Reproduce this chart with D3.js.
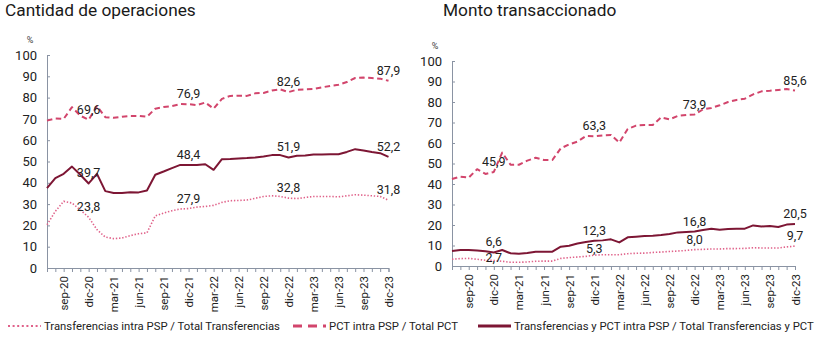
<!DOCTYPE html>
<html>
<head>
<meta charset="utf-8">
<script src="https://cdn.jsdelivr.net/npm/d3@7"></script>
<style>
  body { margin: 0; background: #fff; }
  svg { font-family: Roboto, "Noto Sans", sans-serif; }
</style>
</head>
<body>
<svg id="chart" width="816" height="337"></svg>
<script>
// meses jul-20 .. dic-23
const months = ['ene', 'feb', 'mar', 'abr', 'may', 'jun', 'jul', 'ago', 'sep', 'oct', 'nov', 'dic'];
const categories = [];
for (let y = 20; y <= 23; y++) {
  months.forEach((m, k) => {
    if (y === 20 && k < 6) return;
    categories.push(`${m}-${y}`);
  });
}
const tickLabels = categories.filter(c => /^(sep|dic|mar|jun)/.test(c));
const labelAt = ['dic-20', 'dic-21', 'dic-22', 'dic-23'];
const yTicks = [0, 10, 20, 30, 40, 50, 60, 70, 80, 90, 100];

// Cantidad de operaciones
const cantTransf = [20.3, 26.6, 31.3, 30.5, 27.3, 23.8, 18.0, 14.5, 13.8, 14.1, 15.2, 16.1, 16.5, 24.5,
  25.8, 26.9, 27.7, 27.9, 28.6, 28.9, 29.4, 30.8, 31.6, 31.7, 31.9, 32.7, 33.6, 33.9, 33.6, 32.8,
  32.6, 33.1, 33.6, 33.6, 33.6, 33.4, 33.9, 34.4, 34.2, 33.9, 33.6, 31.8];
const cantPCT = [69.2, 70.2, 70.0, 75.5, 71.5, 69.6, 76.0, 70.8, 70.5, 71.0, 71.4, 71.4, 71.0, 74.8,
  75.6, 76.0, 77.0, 76.9, 76.5, 77.7, 74.8, 79.4, 80.8, 80.9, 80.8, 82.0, 82.2, 83.3, 83.9, 82.6,
  83.7, 83.9, 84.0, 84.8, 85.5, 86.0, 87.3, 89.2, 89.4, 89.2, 88.9, 87.9];
const cantTotal = [37.5, 42.2, 44.2, 47.6, 43.8, 39.7, 44.2, 36.1, 35.2, 35.2, 35.6, 35.5, 36.4, 43.8,
  45.3, 46.9, 48.4, 48.4, 48.4, 48.7, 46.1, 51.1, 51.2, 51.4, 51.6, 51.9, 52.3, 53.0, 53.0, 51.9,
  52.7, 52.8, 53.3, 53.3, 53.4, 53.4, 54.5, 55.8, 55.2, 54.5, 53.9, 52.2];

// Monto transaccionado
const montoTransf = [3.3, 3.6, 3.7, 3.3, 2.8, 2.7, 2.3, 1.8, 1.8, 2.0, 2.3, 2.4, 2.4, 3.7,
  4.1, 4.4, 4.7, 5.3, 5.5, 5.5, 5.5, 6.0, 6.2, 6.3, 6.6, 6.8, 7.1, 7.3, 7.6, 8.0,
  8.1, 8.3, 8.3, 8.5, 8.5, 8.6, 8.9, 8.8, 8.8, 8.8, 9.3, 9.7];
const montoPCT = [42.4, 43.6, 43.1, 47.2, 44.9, 45.9, 55.3, 49.4, 49.4, 51.4, 52.8, 51.7, 51.7, 57.4,
  59.3, 60.7, 63.4, 63.3, 63.7, 63.9, 60.2, 66.8, 68.5, 68.8, 68.8, 72.5, 71.5, 73.2, 73.7, 73.9,
  76.4, 77.1, 78.4, 80.0, 81.0, 81.6, 83.7, 85.2, 85.5, 85.9, 86.3, 85.6];
const montoTotal = [7.3, 7.8, 7.8, 7.6, 7.2, 6.6, 7.8, 6.2, 6.0, 6.3, 7.0, 7.0, 7.0, 9.4,
  9.9, 11.0, 11.7, 12.3, 12.5, 13.0, 11.5, 14.0, 14.3, 14.6, 14.8, 15.1, 15.6, 16.4, 16.6, 16.8,
  17.6, 18.2, 17.7, 18.0, 18.2, 18.2, 19.8, 19.3, 19.5, 19.0, 20.2, 20.5];

const seriesNames = [
  'Transferencias intra PSP / Total Transferencias',
  'PCT intra PSP / Total PCT',
  'Transferencias y PCT intra PSP / Total Transferencias y PCT'
];

const styles = [
  { color: '#e0628a', width: 1.6, dash: '1.4,1.8' },
  { color: '#d2456c', width: 2, dash: '5.5,3.5' },
  { color: '#7d1634', width: 2, dash: null }
];

const svg = d3.select('#chart');
const axisColor = '#8a93a3';

// labels that sit lower than the rest (panel-serie-mes -> px)
const labelNudge = { '1-0-dic-20': 8, '1-0-dic-21': 4 };

const panels = [
  { title: 'Cantidad de operaciones', tx: 5, x0: 47, x1: 388.5, yTop: 55, yBot: 268,
    series: [cantTransf, cantPCT, cantTotal] },
  { title: 'Monto transaccionado', tx: 443, x0: 452, x1: 795, yTop: 61, yBot: 266,
    series: [montoTransf, montoPCT, montoTotal] }
];

panels.forEach((p, pi) => {
  const g = svg.append('g');

  g.append('text')
    .attr('x', p.tx).attr('y', 16)
    .attr('font-size', 17.3).attr('fill', '#1a1a1a')
    .text(p.title);

  const x = d3.scalePoint().domain(categories).range([p.x0, p.x1]);
  const y = d3.scaleLinear().domain([0, 100]).range([p.yBot, p.yTop]);

  g.append('text')
    .attr('x', p.x0 - 17).attr('y', p.yTop - 12)
    .attr('font-size', 9).attr('fill', '#444').attr('text-anchor', 'middle')
    .text('%');

  // eje y
  const yAxis = g.append('g')
    .attr('transform', `translate(${p.x0},0)`)
    .call(d3.axisLeft(y).tickValues(yTicks).tickSize(-3).tickPadding(10));
  yAxis.select('.domain').attr('stroke', axisColor);
  yAxis.selectAll('.tick line').attr('stroke', axisColor);
  yAxis.selectAll('.tick text')
    .attr('font-size', 13).attr('fill', '#222')
    .attr('font-family', 'Roboto, sans-serif');

  // eje x
  const xAxis = g.append('g')
    .attr('transform', `translate(0,${p.yBot})`)
    .call(d3.axisBottom(x).tickSizeOuter(0).tickSize(4)
      .tickFormat(d => tickLabels.includes(d) ? d : ''));
  xAxis.select('.domain').attr('stroke', axisColor);
  xAxis.selectAll('.tick line').attr('stroke', axisColor);
  xAxis.selectAll('.tick text')
    .attr('font-size', 11.5).attr('fill', '#222')
    .attr('font-family', 'Roboto, sans-serif')
    .attr('text-anchor', 'end')
    .attr('transform', 'rotate(-90)')
    .attr('x', -8).attr('y', 0).attr('dy', '0.35em');

  const line = d3.line()
    .x((d, i) => x(categories[i]))
    .y(d => y(d));

  p.series.forEach((vals, s) => {
    const st = styles[s];
    g.append('path')
      .datum(vals)
      .attr('fill', 'none')
      .attr('stroke', st.color)
      .attr('stroke-width', st.width)
      .attr('stroke-dasharray', st.dash)
      .attr('stroke-linejoin', 'round')
      .attr('d', line);
  });

  p.series.forEach((vals, s) => {
    g.selectAll(null)
      .data(labelAt)
      .enter()
      .append('text')
      .attr('x', d => x(d))
      .attr('y', d => y(vals[categories.indexOf(d)]) - 6 + (labelNudge[`${pi}-${s}-${d}`] || 0))
      .attr('text-anchor', 'middle')
      .attr('font-size', 12.5)
      .attr('fill', '#222')
      .text(d => d3.format('.1f')(vals[categories.indexOf(d)]).replace('.', ','));
  });
});

// leyenda
const legendX = [8, 293, 478];
const legendSamples = [
  { color: styles[0].color, width: 2.2, dash: '2,2.6' },
  { color: styles[1].color, width: 3.2, dash: '9,6' },
  { color: styles[2].color, width: 3, dash: null }
];
const legend = svg.append('g').attr('transform', 'translate(0,326)');
seriesNames.forEach((name, i) => {
  legend.append('line')
    .attr('x1', legendX[i]).attr('x2', legendX[i] + 33)
    .attr('y1', 0).attr('y2', 0)
    .attr('stroke', legendSamples[i].color)
    .attr('stroke-width', legendSamples[i].width)
    .attr('stroke-dasharray', legendSamples[i].dash);
  legend.append('text')
    .attr('x', legendX[i] + 36).attr('y', 0).attr('dy', '0.35em')
    .attr('font-size', 11.3).attr('fill', '#222')
    .text(name);
});
</script>
</body>
</html>
